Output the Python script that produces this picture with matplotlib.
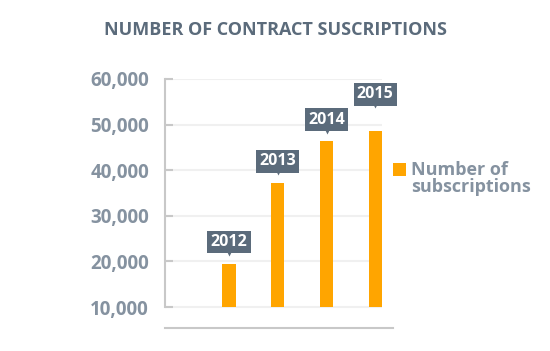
import matplotlib.pyplot as plt
from matplotlib.patches import Rectangle
from matplotlib.transforms import ScaledTranslation

years = ['2012', '2013', '2014', '2015']
subscriptions = [19500, 37200, 46400, 48600]
yticks = [10000, 20000, 30000, 40000, 50000, 60000]
legend_label = 'Number of\nsubscriptions'
title = 'NUMBER OF CONTRACT SUSCRIPTIONS'

orange = '#ffa500'
slate = '#5b6b7b'
gray_text = '#8592a0'
line_gray = '#c8c8c8'

plt.rcParams['font.family'] = ['Open Sans', 'DejaVu Sans']
plt.rcParams['font.weight'] = 'bold'

fig = plt.figure(figsize=(5.5, 3.51), dpi=100)
ax = fig.add_axes([0.30, 0.0655, 0.415, 0.7095])

x = list(range(len(years)))
ax.bar(x, [v - yticks[0] for v in subscriptions], bottom=yticks[0],
       width=0.27, color=orange, zorder=3)

ax.set_xlim(-1.315, 3.37)
ax.set_ylim(5400, 60000)

# light grid lines ending at the last bar
ax.hlines(yticks, -1.315, 3.14, color='#f0f0f0', lw=1.5, zorder=1)

ax.set_yticks(yticks)
ax.set_yticklabels([f'{t:,}' for t in yticks])
ax.tick_params(axis='y', direction='in', length=6, width=1.5, color=line_gray,
               labelsize=13.5, labelcolor=gray_text, pad=11.5)
ax.set_xticks([])

for s in ['top', 'right']:
    ax.spines[s].set_visible(False)
ax.spines['left'].set_bounds(yticks[0], yticks[-1])
ax.spines['left'].set_color(line_gray)
ax.spines['left'].set_linewidth(1.5)
ax.spines['bottom'].set_color(line_gray)
ax.spines['bottom'].set_linewidth(1.5)

# year labels in dark boxes with a small pointer (last one lifted to clear its neighbour)
for i, (xi, v, yr) in enumerate(zip(x, subscriptions, years)):
    lift = 0.15 if i == len(years) - 1 else 0.0
    off = ax.transData + ScaledTranslation(0, 0.235 + lift, fig.dpi_scale_trans)
    ax.text(xi, v, yr, transform=off, ha='center', va='center_baseline',
            color='white', fontsize=11.5, fontweight='bold', zorder=5,
            bbox=dict(boxstyle='square,pad=0.2', fc=slate, ec='none'))
    tri = ax.transData + ScaledTranslation(0, 0.125 + lift, fig.dpi_scale_trans)
    ax.plot([xi], [v], marker='v', ms=7, color=slate, mec='none',
            transform=tri, zorder=6, clip_on=False)

# legend
fig.patches.append(Rectangle((393 / 550, 1 - 176 / 351), 13 / 550, 13 / 351,
                             transform=fig.transFigure, fc=orange, ec='none'))
fig.text(411 / 550, 1 - 161 / 351, legend_label, ha='left', va='top',
         fontsize=13, color=gray_text, linespacing=0.95)

fig.text(0.5, 1 - 30 / 351, title, ha='center', va='center',
         fontsize=13, color=slate)

fig.savefig('out.png', dpi=100)
